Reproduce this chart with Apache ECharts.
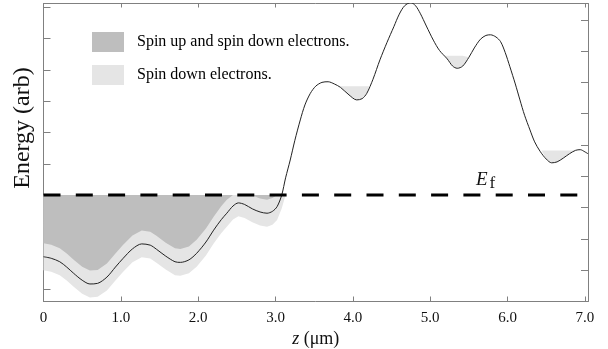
<!DOCTYPE html>
<html>
<head>
<meta charset="utf-8">
<script src="https://cdn.jsdelivr.net/npm/echarts@6/dist/echarts.min.js"></script>
<style>
html,body{margin:0;padding:0;background:#fff;}
#chart{width:608px;height:349px;}
</style>
</head>
<body>
<div id="chart"></div>
<script>
// ---- data ----
const zValues = [0.00,0.10,0.21,0.30,0.39,0.50,0.60,0.70,0.82,0.93,1.03,1.15,1.27,1.38,1.46,1.58,1.70,1.77,1.88,1.98,2.10,2.20,2.30,2.37,2.45,2.52,2.60,2.70,2.80,2.89,2.96,3.02,3.08,3.13,3.19,3.25,3.32,3.38,3.45,3.52,3.60,3.68,3.76,3.84,3.95,4.05,4.12,4.18,4.26,4.35,4.44,4.53,4.60,4.67,4.75,4.81,4.87,4.95,5.04,5.12,5.22,5.29,5.35,5.42,5.50,5.57,5.65,5.72,5.78,5.85,5.91,5.97,6.03,6.10,6.16,6.22,6.29,6.35,6.42,6.50,6.57,6.64,6.72,6.80,6.88,6.94,7.00,7.04];
const energyValues = [1.43,1.38,1.27,1.10,0.90,0.68,0.56,0.58,0.78,1.10,1.38,1.68,1.84,1.80,1.67,1.45,1.27,1.25,1.33,1.54,1.90,2.28,2.62,2.82,3.05,3.15,3.10,2.96,2.86,2.82,2.88,3.03,3.40,3.95,4.52,5.15,5.80,6.28,6.65,6.88,7.00,7.02,6.95,6.84,6.60,6.44,6.48,6.65,7.10,7.72,8.27,8.78,9.18,9.45,9.55,9.45,9.21,8.80,8.35,8.02,7.75,7.52,7.45,7.52,7.80,8.10,8.38,8.50,8.52,8.45,8.30,7.95,7.50,6.95,6.44,5.95,5.48,5.10,4.80,4.55,4.43,4.46,4.58,4.72,4.83,4.85,4.78,4.72];
const EF = 3.4;          // Fermi level
const BAND = 0.43;       // half-width of spin-down band
const pocketLevels = [6.88, 7.85, 4.82];
const pocketStart  = [3.83, 5.19, 6.44];
const pocketEnd    = [4.21, 5.52, 6.88];
const xTicks = [0,1,2,3,4,5,6,7];
const leftTicks = [0.4,1.4,2.4,3.4,4.4,5.4,6.4,7.4,8.4,9.4];
const rightTicks = [0,1,2,3,4,5,6,7,8,9];
const legendNames = ['Spin up and spin down electrons.', 'Spin down electrons.'];

const DARK = '#bebebe', LIGHT = '#e5e5e5', AXIS = '#808080';
const SERIF = '"Liberation Serif","DejaVu Serif",serif';

const lowerEdge = zValues.map((z,i)=>[z, Math.min(energyValues[i]-BAND, EF)]);
const upperEdge = zValues.map((z,i)=>[z, Math.min(energyValues[i]+BAND, EF)]);
const curve = zValues.map((z,i)=>[z, energyValues[i]]);

function pocketData(k){
  const lv = pocketLevels[k];
  const d = [[pocketStart[k], lv]];
  zValues.forEach((z,i)=>{
    if (z > pocketStart[k] && z < pocketEnd[k]) d.push([z, Math.min(energyValues[i], lv)]);
  });
  d.push([pocketEnd[k], lv]);
  return d;
}

const pocketSeries = pocketLevels.map((lv,k)=>({
  type:'line', data: pocketData(k), symbol:'none', silent:true,
  lineStyle:{width:0}, areaStyle:{color:LIGHT, opacity:1, origin: lv}, z:3
}));

const axisLine = {show:true, onZero:false, lineStyle:{color:AXIS, width:1}};

const chart = echarts.init(document.getElementById('chart'), null, {renderer:'canvas'});
chart.setOption({
  animation:false,
  backgroundColor:'#fff',
  grid:{left:43.5, right:20, top:3.5, bottom:47.5, containLabel:false, outerBoundsMode:'none'},
  legend:{
    orient:'vertical', left:87, top:27, itemWidth:32, itemHeight:20, itemGap:13,
    icon:'rect', selectedMode:false,
    itemStyle:{borderWidth:0},
    textStyle:{fontFamily:SERIF, fontSize:16, color:'#000', padding:[0,0,0,8]},
    data:[
      {name:legendNames[0], icon:'rect', itemStyle:{color:DARK, borderWidth:0}},
      {name:legendNames[1], icon:'rect', itemStyle:{color:LIGHT, borderWidth:0}}
    ]
  },
  xAxis:[{
    type:'value', min:0, max:7.04, position:'bottom',
    name:'{i|z} (μm)', nameLocation:'middle', nameGap:24,
    nameTextStyle:{fontFamily:SERIF, fontSize:18, color:'#111',
      rich:{i:{fontFamily:SERIF, fontSize:18, fontStyle:'italic', color:'#111'}}},
    axisLine:axisLine,
    axisTick:{show:true, inside:true, length:5, lineStyle:{color:AXIS}, customValues:xTicks},
    axisLabel:{show:true, customValues:xTicks, margin:9, fontFamily:SERIF, fontSize:15, color:'#111',
      formatter:v=> v===0 ? '0' : v.toFixed(1)},
    splitLine:{show:false}
  },{
    type:'value', min:0, max:7.04, position:'top',
    axisLine:axisLine,
    axisTick:{show:true, inside:true, length:4, lineStyle:{color:AXIS}, customValues:xTicks},
    axisLabel:{show:false}, splitLine:{show:false}
  }],
  yAxis:[{
    type:'value', min:0, max:9.52, position:'left',
    axisLine:axisLine,
    axisTick:{show:true, inside:true, length:7, lineStyle:{color:AXIS}, customValues:leftTicks},
    axisLabel:{show:false}, splitLine:{show:false}
  },{
    type:'value', min:0, max:9.52, position:'right',
    axisLine:axisLine,
    axisTick:{show:true, inside:true, length:7, lineStyle:{color:AXIS}, customValues:rightTicks},
    axisLabel:{show:false}, splitLine:{show:false}
  }],
  series:[
    {name:legendNames[1], type:'line', data:lowerEdge, symbol:'none', silent:true, color:LIGHT,
      lineStyle:{width:0}, areaStyle:{color:LIGHT, opacity:1, origin:EF}, z:1},
    {name:legendNames[0], type:'line', data:upperEdge, symbol:'none', silent:true, color:DARK,
      lineStyle:{width:0}, areaStyle:{color:DARK, opacity:1, origin:EF}, z:2},
    ...pocketSeries,
    {type:'line', data:curve, symbol:'none', silent:true, smooth:0.3,
      lineStyle:{color:'#222', width:1}, z:5},
    {type:'line', data:[[0,EF],[7.04,EF]], symbol:'none', silent:true,
      lineStyle:{color:'#000', width:3, type:[17,15.3]}, z:6}
  ],
  graphic:[
    {type:'text', x:23, y:128, rotation:Math.PI/2,
      style:{text:'Energy (arb)', fontFamily:SERIF, fontSize:24, fill:'#111', align:'center', verticalAlign:'middle'}},
    {type:'text', x:476, y:189,
      style:{text:'E', fontFamily:SERIF, fontSize:19, fontStyle:'italic', fill:'#111', align:'left', verticalAlign:'bottom'}},
    {type:'text', x:489.5, y:192,
      style:{text:'f', fontFamily:SERIF, fontSize:17, fill:'#111', align:'left', verticalAlign:'bottom'}}
  ]
});
</script>
</body>
</html>
